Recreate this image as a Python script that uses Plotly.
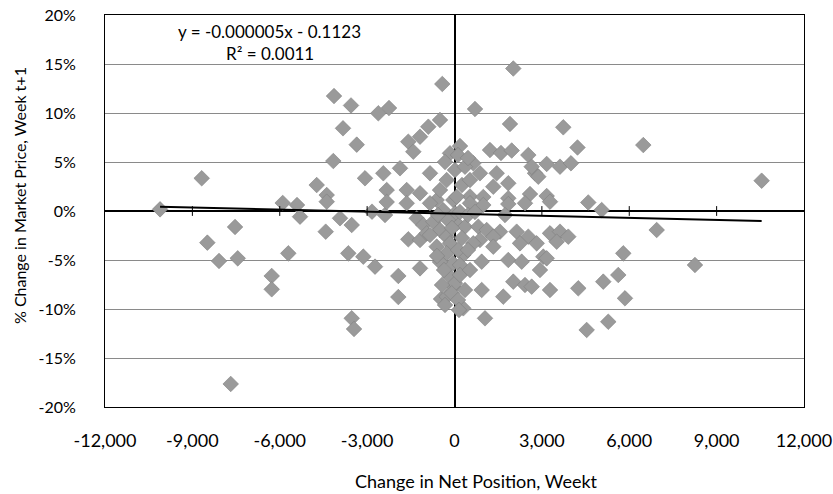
import plotly.graph_objects as go

# Change in net position, week t  (contracts)
net_change = [
    -10110, -8679, -7535, -8486, -8085, -7443, -5898, -5407, -5706, -6276,
    -6276, -7683, -5304, -4422, -3931, -3529, -3646, -3131, -2729, -1929,
    -1929, -1184, -1586, -1184, -3529, -3450, -2832, -2386, -463, -419,
    -4137, -3553, -2616, -2249, -899, -498, -3828, -3357, -1586, -1184,
    -1414, -4161, -4731, -4387, -3073, -2444, -2328, -1871, -841, -1641,
    -1184, -611, -2328, -4387, -1641, -841, -154, 17, -268, -41,
    -1298, -1071, -728, -954, -498, -268, -154, -611, -268, -41,
    -154, -41, -268, 76, 17, 2019, 704, 1905, 3735, 6482,
    10546, 189, 1219, 1596, 1964, 2534, 3165, 2764, 3622, 3999,
    4223, 645, 875, 1449, 1847, 2592, 3165, 532, 989, 360,
    76, 1847, 1332, 2877, 2650, 4593, 5053, 3279, 2420, 1847,
    989, 532, 1734, 360, 817, 1105, 1562, 1332, 2135, 2534,
    2822, 3279, 3622, 3907, 3509, 875, 645, 1332, 2249, 3049,
    934, 1847, 2307, 2935, 3165, 5795, 302, 189, 2019, 2420,
    2650, 934, 1675, 3279, 4250, 5108, 5623, 5853, 17, -96,
    302, 1047, 4538, 5280, 6942, 8256,
    -395, 189, -223, 257, -498, 120, -360, 189, -429, 360,
    120, -566, -86, 463, 704, -841, -601, -326, 154, 532,
    463, 257, 532, 120, -326, -498, 463,
]

# % change in market price, week t+1 (in percent)
price_change_pct = [
    0.17, 3.34, -1.63, -3.23, -5.10, -4.83, 0.82, 0.61, -4.32, -6.63,
    -7.99, -17.65, -0.58, -2.11, -0.74, -1.43, -4.32, -4.66, -5.68, -6.63,
    -8.78, -5.85, -2.89, -2.96, -10.95, -12.04, -0.07, -0.41, -8.98, 12.96,
    11.73, 10.77, 9.97, 10.51, 8.60, 9.29, 8.44, 6.77, 7.07, 7.58,
    6.05, 5.10, 2.65, 1.63, 3.34, 3.85, 2.14, 4.36, 3.85, 2.14,
    1.81, 1.12, 0.92, 0.95, 0.79, 0.79, 5.89, 4.18, 3.16, 1.12,
    -0.74, -1.43, -1.09, -2.28, -1.94, -2.62, -3.30, -3.64, -4.32, -5.34,
    -6.70, -7.72, -8.74, -1.26, -0.23, 14.54, 10.41, 8.88, 8.54, 6.73,
    3.09, 6.63, 6.22, 5.92, 6.17, 5.71, 4.80, 3.85, 4.52, 4.87,
    6.48, 4.87, 3.85, 3.85, 2.83, 1.73, 1.53, 1.48, 1.43, 4.52,
    1.46, 1.30, 2.48, 3.50, 4.52, 0.87, 0.10, 0.95, 0.79, 0.71,
    0.61, 0.79, -0.41, -1.60, -1.60, -1.94, -2.11, -2.62, -2.11, -2.62,
    -3.30, -2.28, -2.11, -2.62, -3.13, -2.96, -3.30, -3.64, -3.30, -4.66,
    -5.17, -5.00, -5.17, -6.02, -4.83, -4.32, -4.49, -5.51, -7.21, -7.55,
    -7.72, -8.06, -8.74, -8.06, -7.89, -7.21, -6.53, -8.91, -7.38, -8.40,
    -9.93, -10.95, -12.14, -11.30, -1.94, -5.51,
    0.10, -0.10, -0.92, -2.76, -5.20, -3.98, -6.02, -6.53, -7.55, -8.06,
    -9.08, -0.41, -1.73, -0.41, -0.10, -2.45, -4.59, -9.59, -10.10, -6.02,
    -3.98, 2.65, 3.16, 5.71, 5.00, 2.14, 5.41,
]

# Linear trend line (end points)
trend_x = [-10110, 10546]
trend_y_pct = [0.44, -1.02]

equation_text = "y = -0.000005x - 0.1123"
r2_text = "R² = 0.0011"

x_tick_vals = [-12000, -9000, -6000, -3000, 0, 3000, 6000, 9000, 12000]
x_tick_text = ["-12,000", "-9,000", "-6,000", "-3,000", "0", "3,000", "6,000", "9,000", "12,000"]
y_tick_vals = [-0.20, -0.15, -0.10, -0.05, 0.0, 0.05, 0.10, 0.15, 0.20]
y_tick_text = ["-20%", "-15%", "-10%", "-5%", "0%", "5%", "10%", "15%", "20%"]
axis_minor_ticks = [-9000, -6000, -3000, 3000, 6000, 9000]

x_title = "Change in Net Position, Weekt"
y_title = "% Change in Market Price, Week t+1"

FONT = "Lato"

price_change = [v / 100 for v in price_change_pct]
trend_y = [v / 100 for v in trend_y_pct]

fig = go.Figure()

fig.add_trace(go.Scatter(
    x=net_change, y=price_change, mode="markers",
    marker=dict(symbol="diamond", size=12, color="#9a9a9a",
                line=dict(color="#808080", width=0.6)),
    showlegend=False, hoverinfo="skip",
))

fig.add_trace(go.Scatter(
    x=trend_x, y=trend_y, mode="lines",
    line=dict(color="black", width=2), showlegend=False, hoverinfo="skip",
))

# small tick marks on the horizontal axis line (y = 0)
fig.add_trace(go.Scatter(
    x=axis_minor_ticks, y=[0] * len(axis_minor_ticks), mode="markers",
    marker=dict(symbol="line-ns", size=7, line=dict(color="black", width=1)),
    showlegend=False, hoverinfo="skip",
))

text_font = dict(family=FONT, size=17, color="black")

fig.update_layout(
    width=833, height=494,
    margin=dict(l=105, r=29, t=15, b=87, autoexpand=False),
    paper_bgcolor="white", plot_bgcolor="white",
    font=dict(family=FONT, size=16, color="black"),
    annotations=[
        dict(x=0.236, y=0.957, xref="paper", yref="paper", text=equation_text,
             xanchor="center", yanchor="middle", showarrow=False, font=text_font),
        dict(x=0.236, y=0.903, xref="paper", yref="paper", text=r2_text,
             xanchor="center", yanchor="middle", showarrow=False, font=text_font),
        # axis titles
        dict(x=0.531, y=-0.188, xref="paper", yref="paper", text=x_title,
             xanchor="center", yanchor="middle", showarrow=False,
             font=dict(family=FONT, size=18, color="black")),
        dict(x=-0.122, y=0.54, xref="paper", yref="paper", text=y_title,
             textangle=-90, xanchor="center", yanchor="middle", showarrow=False,
             font=dict(family=FONT, size=16, color="black")),
    ],
    xaxis=dict(
        range=[-12000, 12000], tickvals=x_tick_vals, ticktext=x_tick_text,
        showgrid=False, zeroline=True, zerolinecolor="black", zerolinewidth=1.5,
        showline=True, linecolor="black", linewidth=1, mirror=True,
        ticks="", ticklabelstandoff=17, tickfont=dict(family=FONT, size=18),
        automargin=False,
    ),
    yaxis=dict(
        range=[-0.20, 0.20], tickvals=y_tick_vals, ticktext=y_tick_text,
        showgrid=True, gridcolor="#8a8a8a", gridwidth=1,
        zeroline=True, zerolinecolor="black", zerolinewidth=1.5,
        showline=True, linecolor="black", linewidth=1, mirror=True,
        ticks="", ticklabelstandoff=25, tickfont=dict(family=FONT, size=16),
        automargin=False,
    ),
)

fig.write_html("out.html")
